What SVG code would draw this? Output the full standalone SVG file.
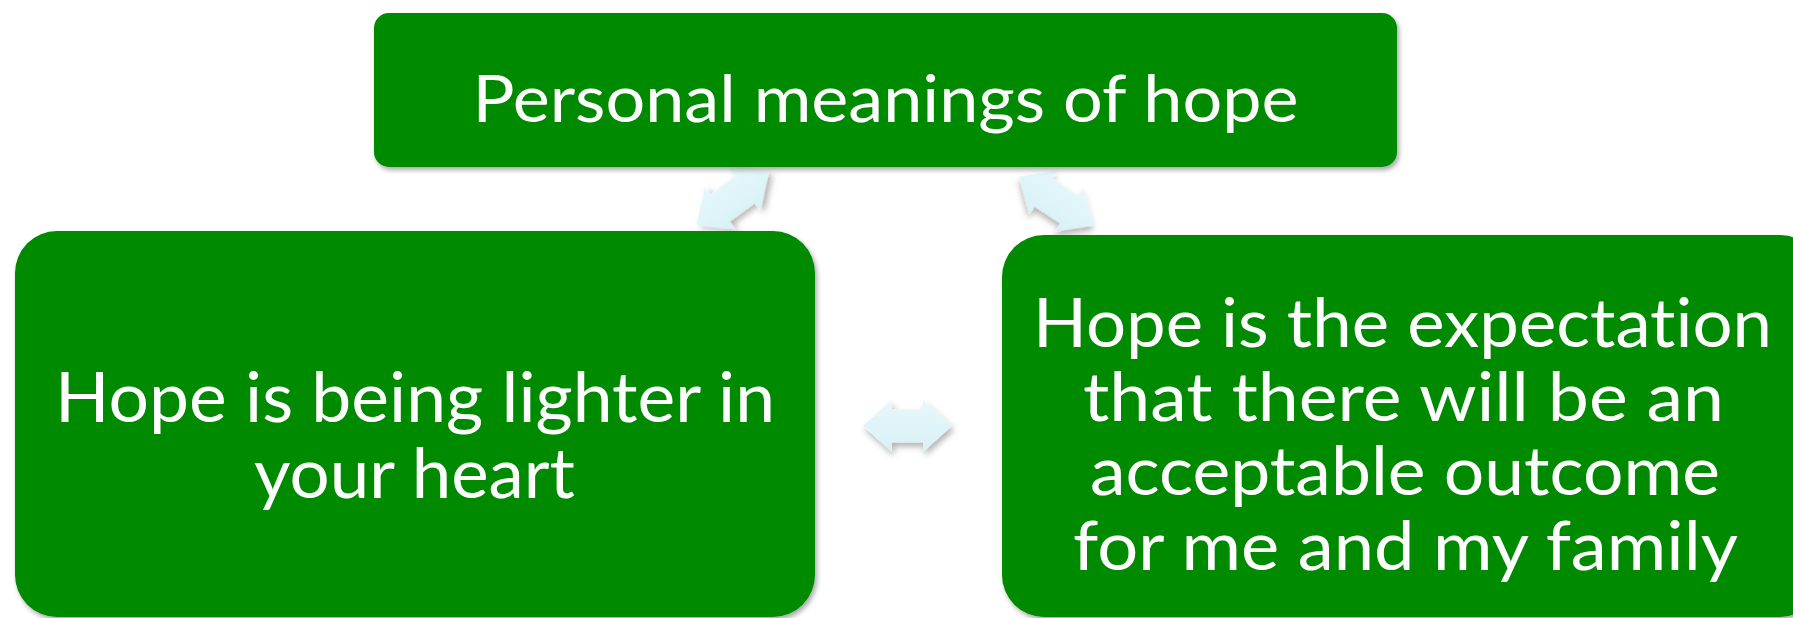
<svg xmlns="http://www.w3.org/2000/svg" width="1793" height="618" viewBox="0 0 1793 618">
<defs>
<style>
.box{fill:#008A00;filter:url(#sh);}
.t{fill:#ffffff;font-family:Lato,"Open Sans","DejaVu Sans",sans-serif;text-anchor:middle;font-variant-ligatures:none;font-feature-settings:"liga" 0,"dlig" 0;}
.arr{fill:url(#ag);filter:url(#sh2);}
</style>
<filter id="sh" x="-5%" y="-5%" width="110%" height="115%">
<feDropShadow dx="2" dy="3" stdDeviation="2.5" flood-color="#000" flood-opacity="0.35"/>
</filter>
<filter id="sh2" x="-20%" y="-20%" width="140%" height="150%">
<feDropShadow dx="2" dy="4" stdDeviation="3" flood-color="#000" flood-opacity="0.3"/>
</filter>
<linearGradient id="ag" x1="0" y1="0" x2="0" y2="1">
<stop offset="0" stop-color="#E6F8FB"/>
<stop offset="1" stop-color="#D8F1F6"/>
</linearGradient>
<polygon id="dbl" points="-44.5,0 -15.5,-26 -15.5,-16.5 15.5,-16.5 15.5,-26 44.5,0 15.5,26 15.5,16.5 -15.5,16.5 -15.5,26"/>
</defs>
<rect width="1793" height="618" fill="#ffffff"/>
<g id="connectors">
<use href="#dbl" class="arr" transform="translate(732.5,199) rotate(-36)"/>
<use href="#dbl" class="arr" transform="translate(1056.5,201) rotate(33)"/>
<use href="#dbl" class="arr" transform="translate(907.5,426)"/>
</g>
<g id="node-top">
<rect class="box" x="374" y="13" width="1023" height="154" rx="15" ry="15"/>
<text class="t" x="885.5" y="122" font-size="66" textLength="826" lengthAdjust="spacingAndGlyphs">Personal meanings of hope</text>
</g>
<g id="node-left">
<rect class="box" x="15" y="231" width="800" height="386" rx="42" ry="42"/>
<text class="t" x="415" y="422" font-size="70" textLength="720" lengthAdjust="spacingAndGlyphs">Hope is being lighter in</text>
<text class="t" x="414.5" y="498" font-size="70" textLength="321" lengthAdjust="spacingAndGlyphs">your heart</text>
</g>
<g id="node-right">
<rect class="box" x="1002" y="235" width="820" height="382" rx="42" ry="42"/>
<text class="t" x="1402.5" y="347" font-size="68" textLength="739" lengthAdjust="spacingAndGlyphs">Hope is the expectation</text>
<text class="t" x="1403.5" y="421" font-size="68" textLength="641" lengthAdjust="spacingAndGlyphs">that there will be an</text>
<text class="t" x="1405" y="495" font-size="68" textLength="630" lengthAdjust="spacingAndGlyphs">acceptable outcome</text>
<text class="t" x="1405.5" y="570" font-size="68" textLength="665" lengthAdjust="spacingAndGlyphs">for me and my family</text>
</g>
</svg>
